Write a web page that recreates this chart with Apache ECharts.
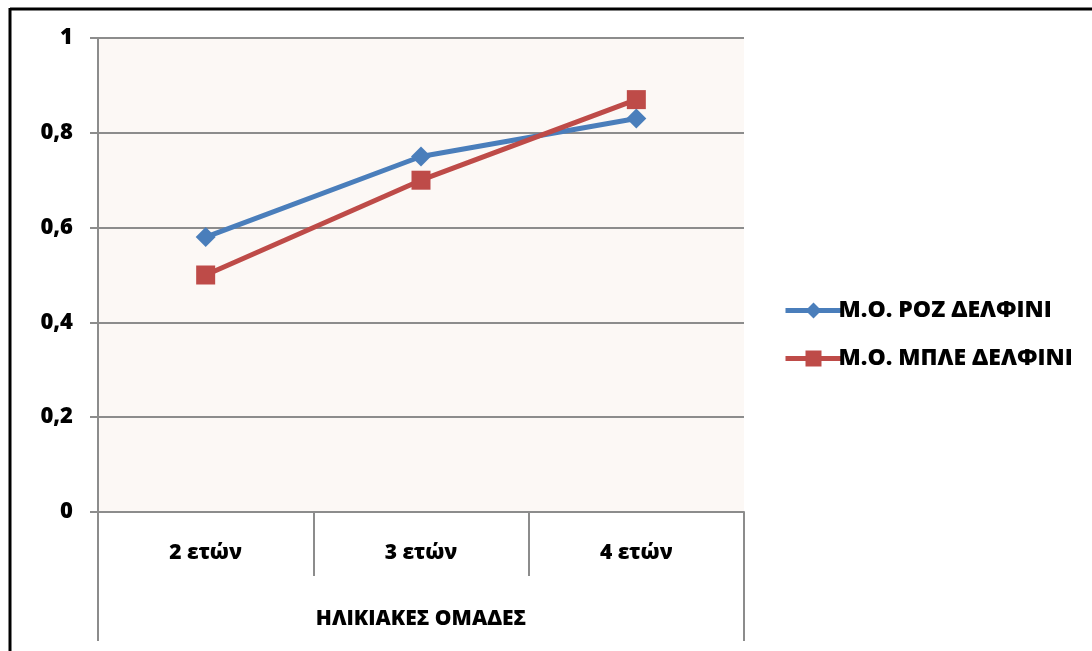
<!DOCTYPE html>
<html>
<head>
<meta charset="utf-8">
<script src="https://cdn.jsdelivr.net/npm/echarts@6/dist/echarts.min.js"></script>
<style>
  html, body { margin: 0; padding: 0; background: #fff; }
  #chart { width: 1092px; height: 651px; }
</style>
</head>
<body>
<div id="chart"></div>
<script>
  // categories + series
  var categories = ['2 ετών', '3 ετών', '4 ετών'];
  var groupLabel = ['ΗΛΙΚΙΑΚΕΣ ΟΜΑΔΕΣ'];
  var rozValues = [0.58, 0.75, 0.83];
  var mpleValues = [0.50, 0.70, 0.87];
  var seriesNames = ['Μ.Ο. ΡΟΖ ΔΕΛΦΙΝΙ', 'Μ.Ο. ΜΠΛΕ ΔΕΛΦΙΝΙ'];

  var font = '"Open Sans", "Noto Sans", sans-serif';
  var gridCol = '#8c8c8c';
  var fw = 800;

  var chart = echarts.init(document.getElementById('chart'));
  chart.setOption({
    animation: false,
    backgroundColor: '#fff',
    textStyle: { fontFamily: font },
    graphic: [
      { type: 'line', shape: { x1: 10, y1: 9, x2: 1092, y2: 9 }, style: { stroke: '#000', lineWidth: 3 } },
      { type: 'line', shape: { x1: 10, y1: 8, x2: 10, y2: 651 }, style: { stroke: '#000', lineWidth: 3 } }
    ],
    legend: {
      orient: 'vertical',
      left: 778,
      top: 294,
      itemGap: 25,
      itemWidth: 56,
      itemHeight: 20,
      lineStyle: { width: 5 },
      textStyle: { fontFamily: font, fontWeight: fw, fontSize: 23, color: '#000', padding: [0, 0, 0, -8] },
      data: seriesNames
    },
    grid: {
      left: 98, right: 348, top: 38, bottom: 139,
      show: true, backgroundColor: '#fcf8f5', borderWidth: 0
    },
    xAxis: [
      {
        type: 'category',
        data: categories,
        boundaryGap: true,
        axisLine: { lineStyle: { color: gridCol, width: 2 } },
        axisTick: { show: true, length: 64, lineStyle: { color: gridCol, width: 2 } },
        axisLabel: { margin: 31, color: '#000', fontWeight: fw, fontSize: 21, fontFamily: font }
      },
      {
        type: 'category',
        position: 'bottom',
        offset: 64,
        data: groupLabel,
        boundaryGap: true,
        axisLine: { show: false },
        axisTick: { show: true, length: 65, lineStyle: { color: gridCol, width: 2 } },
        axisLabel: { margin: 33, color: '#000', fontWeight: fw, fontSize: 21, fontFamily: font }
      }
    ],
    yAxis: {
      type: 'value',
      min: 0, max: 1, interval: 0.2,
      axisLine: { show: true, lineStyle: { color: gridCol, width: 2 } },
      axisTick: { show: true, length: 8, lineStyle: { color: gridCol, width: 2 } },
      splitLine: { lineStyle: { color: gridCol, width: 2 } },
      axisLabel: {
        margin: 25, color: '#000', fontWeight: fw, fontSize: 22, fontFamily: font,
        formatter: function (v) { return String(Math.round(v * 10) / 10).replace('.', ','); }
      }
    },
    series: [
      {
        name: seriesNames[0], type: 'line', data: rozValues,
        symbol: 'diamond', symbolSize: 20,
        itemStyle: { color: '#4a7ebb' },
        lineStyle: { color: '#4a7ebb', width: 5 }
      },
      {
        name: seriesNames[1], type: 'line', data: mpleValues,
        symbol: 'rect', symbolSize: 19,
        itemStyle: { color: '#be4b48' },
        lineStyle: { color: '#be4b48', width: 5 }
      }
    ]
  });
</script>
</body>
</html>
